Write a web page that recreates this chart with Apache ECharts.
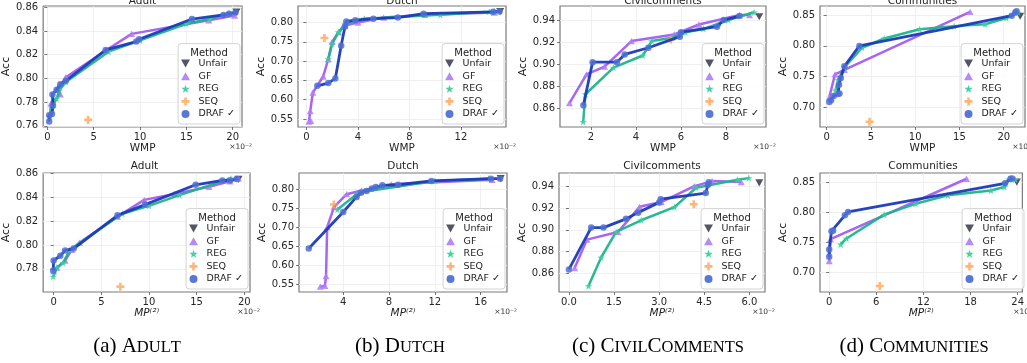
<!DOCTYPE html>
<html><head><meta charset="utf-8">
<script src="https://cdn.jsdelivr.net/npm/echarts@6/dist/echarts.min.js"></script>
<style>html,body{margin:0;padding:0;background:#fff}#c{width:1027px;height:363px}</style>
</head><body><div id="c"></div>
<script>
// ---------------- DATA ----------------
const methods = ['Unfair', 'GF', 'REG', 'SEQ', 'DRAF'];
const panelTitles = ['Adult', 'Dutch', 'Civilcomments', 'Communities', 'Adult', 'Dutch', 'Civilcomments', 'Communities'];
const captions = ['(a) Adult', '(b) Dutch', '(c) CivilComments', '(d) Communities'];

// Top row: WMP (x 1e-2) vs Acc
const adultWmpUnfair = [[20.4, 0.8558]];
const adultWmpGF = [[0.3,0.770],[0.4,0.779],[0.6,0.780],[1.4,0.7865],[1.1,0.7905],[2.0,0.801],[6.3,0.8235],[9.1,0.8375],[17.4,0.849],[20.2,0.853]];
const adultWmpREG = [[0.3,0.768],[0.5,0.775],[1.0,0.783],[1.3,0.790],[2.0,0.797],[6.6,0.8225],[10.0,0.832],[15.0,0.846],[17.5,0.850],[19.6,0.855]];
const adultWmpSEQ = [[4.4, 0.765]];
const adultWmpDRAF = [[0.2,0.7637],[0.2,0.769],[0.5,0.770],[0.6,0.777],[0.55,0.7865],[1.0,0.7905],[1.4,0.795],[2.0,0.798],[6.3,0.824],[9.6,0.831],[9.9,0.833],[15.6,0.850],[19.0,0.8535],[19.6,0.8545],[20.3,0.8555]];

const dutchWmpUnfair = [[15.05, 0.8287]];
const dutchWmpGF = [[0.2,0.543],[0.35,0.545],[0.3,0.570],[0.5,0.618],[1.3,0.660],[1.7,0.705],[2.0,0.750],[2.5,0.775],[3.0,0.792],[4.0,0.800],[6.0,0.813],[9.2,0.820],[14.6,0.826]];
const dutchWmpREG = [[1.7,0.705],[2.0,0.745],[2.5,0.775],[3.0,0.796],[4.5,0.810],[10.4,0.820],[14.2,0.828],[14.6,0.829]];
const dutchWmpSEQ = [[1.4, 0.760]];
const dutchWmpDRAF = [[0.85,0.636],[1.7,0.643],[2.25,0.655],[2.7,0.740],[3.0,0.790],[3.1,0.803],[3.8,0.806],[5.2,0.810],[7.1,0.813],[9.1,0.823],[14.5,0.828],[15.0,0.829]];

const civilWmpUnfair = [[9.48, 0.943]];
const civilWmpGF = [[1.04,0.865],[1.8,0.891],[2.6,0.898],[3.8,0.921],[5.7,0.927],[6.8,0.936],[8.6,0.9445],[9.05,0.9445]];
const civilWmpREG = [[1.65,0.848],[1.75,0.873],[3.0,0.897],[4.3,0.908],[4.7,0.921],[5.6,0.924],[6.2,0.929],[7.0,0.932],[7.7,0.937],[8.1,0.940],[9.25,0.947]];
const civilWmpSEQ = [[5.55, 0.9225]];
const civilWmpDRAF = [[1.66,0.863],[2.07,0.902],[3.15,0.902],[3.5,0.909],[4.55,0.915],[5.95,0.925],[6.0,0.929],[7.6,0.934],[7.9,0.940],[8.6,0.9436]];

const commWmpUnfair = [[21.85, 0.848]];
const commWmpGF = [[0.3,0.717],[0.95,0.754],[2.0,0.761],[16.2,0.855]];
const commWmpREG = [[1.0,0.728],[1.3,0.745],[2.0,0.765],[4.0,0.797],[6.5,0.812],[10.5,0.827],[14.4,0.832],[17.9,0.835],[20.3,0.845],[21.6,0.854]];
const commWmpSEQ = [[4.85, 0.677]];
const commWmpDRAF = [[0.3,0.709],[0.5,0.712],[0.8,0.719],[1.3,0.722],[1.45,0.723],[1.4,0.737],[1.6,0.748],[2.0,0.767],[3.7,0.800],[20.9,0.849],[21.3,0.854],[21.45,0.856]];

// Bottom row: MP(2) (x 1e-2) vs Acc
const adultMpUnfair = [[19.4, 0.8552]];
const adultMpGF = [[0.0,0.778],[0.35,0.781],[1.2,0.787],[1.9,0.796],[2.7,0.802],[6.7,0.824],[9.5,0.838],[12.7,0.843],[16.3,0.849],[18.5,0.8536],[19.4,0.856]];
const adultMpREG = [[-0.05,0.7735],[0.35,0.781],[1.0,0.785],[1.7,0.796],[7.2,0.8263],[10.0,0.833],[13.2,0.842],[18.6,0.856]];
const adultMpSEQ = [[7.0, 0.765]];
const adultMpDRAF = [[-0.05,0.7786],[0.0,0.787],[0.7,0.791],[1.2,0.7955],[2.1,0.797],[6.7,0.825],[9.6,0.834],[14.9,0.8507],[17.7,0.8543],[18.5,0.8543],[19.2,0.8556]];

const dutchMpUnfair = [[17.75, 0.828]];
const dutchMpGF = [[2.0,0.543],[2.4,0.545],[2.5,0.571],[2.6,0.700],[3.2,0.753],[4.3,0.787],[5.6,0.797],[8.2,0.813],[17.0,0.825]];
const dutchMpREG = [[3.5,0.7465],[5.17,0.787],[5.6,0.793],[12.0,0.822],[16.7,0.828]];
const dutchMpSEQ = [[3.18, 0.760]];
const dutchMpDRAF = [[0.99,0.644],[4.0,0.740],[5.17,0.780],[5.55,0.791],[6.05,0.7956],[6.5,0.802],[6.84,0.806],[7.42,0.8105],[8.8,0.812],[11.7,0.822],[16.9,0.828],[17.7,0.828]];

const civilMpUnfair = [[6.33, 0.943]];
const civilMpGF = [[0.19,0.865],[0.6,0.891],[1.63,0.898],[2.35,0.921],[3.07,0.9254],[4.17,0.940],[4.76,0.9446],[5.73,0.9437]];
const civilMpREG = [[0.65,0.8484],[1.07,0.8746],[1.57,0.898],[2.4,0.9087],[3.51,0.9208],[4.23,0.9385],[5.6,0.9458],[5.98,0.9473]];
const civilMpSEQ = [[4.15, 0.9233]];
const civilMpDRAF = [[0.0,0.8637],[0.74,0.902],[1.15,0.902],[1.9,0.910],[2.3,0.9157],[3.0,0.925],[3.05,0.928],[4.55,0.9336],[4.62,0.941],[4.65,0.9436]];

const commMpUnfair = [[23.9, 0.850]];
const commMpGF = [[0.0,0.719],[0.17,0.7555],[17.5,0.8555]];
const commMpREG = [[1.46,0.7467],[2.2,0.7566],[7.0,0.796],[11.0,0.814],[15.1,0.828],[20.6,0.836],[22.3,0.8418],[22.9,0.8544],[23.7,0.854]];
const commMpSEQ = [[6.44, 0.678]];
const commMpDRAF = [[0.0,0.7264],[0.0,0.7385],[0.3,0.7687],[0.5,0.770],[2.0,0.795],[2.4,0.8005],[22.4,0.848],[23.1,0.8555],[23.3,0.856]];

// axis ranges and tick labels
const xMin = [-0.45, -0.65, 0.62, -0.75, -1.1, 0.14, -0.33, -1.17];
const xMax = [21.0, 15.5, 9.78, 22.4, 20.6, 18.3, 6.52, 24.6];
const yMin = [0.759, 0.529, 0.8434, 0.6686, 0.7605, 0.529, 0.843, 0.668];
const yMax = [0.861, 0.843, 0.9527, 0.8646, 0.8606, 0.843, 0.952, 0.865];
const xTicks = [[0,5,10,15,20],[0,4,8,12],[2,4,6,8],[0,5,10,15,20],[0,5,10,15,20],[4,8,12,16],[0,1.5,3,4.5,6],[0,6,12,18,24]];
const xDec = [0, 0, 0, 0, 0, 0, 1, 0];
const yTicks = [
  [0.76,0.78,0.80,0.82,0.84,0.86],
  [0.55,0.60,0.65,0.70,0.75,0.80],
  [0.86,0.88,0.90,0.92,0.94],
  [0.70,0.75,0.80,0.85],
  [0.78,0.80,0.82,0.84,0.86],
  [0.55,0.60,0.65,0.70,0.75,0.80],
  [0.86,0.88,0.90,0.92,0.94],
  [0.70,0.75,0.80,0.85]
];

const panelData = [
  [adultWmpUnfair, adultWmpGF, adultWmpREG, adultWmpSEQ, adultWmpDRAF],
  [dutchWmpUnfair, dutchWmpGF, dutchWmpREG, dutchWmpSEQ, dutchWmpDRAF],
  [civilWmpUnfair, civilWmpGF, civilWmpREG, civilWmpSEQ, civilWmpDRAF],
  [commWmpUnfair, commWmpGF, commWmpREG, commWmpSEQ, commWmpDRAF],
  [adultMpUnfair, adultMpGF, adultMpREG, adultMpSEQ, adultMpDRAF],
  [dutchMpUnfair, dutchMpGF, dutchMpREG, dutchMpSEQ, dutchMpDRAF],
  [civilMpUnfair, civilMpGF, civilMpREG, civilMpSEQ, civilMpDRAF],
  [commMpUnfair, commMpGF, commMpREG, commMpSEQ, commMpDRAF]
];

// ---------------- LAYOUT / STYLE ----------------
const W = 1027, H = 363;
const gL = [43, 298, 560, 820, 39, 299, 559, 820];
const gR = [242, 506, 766, 1025, 250, 507, 765, 1026];
const gT = [6, 6, 6, 6, 173, 173, 173, 173];
const gB = [127, 127, 127, 127, 292, 292, 292, 292];
const yNameGap = [28, 23, 27, 26, 26, 26, 26, 26];
const capX = [137, 400, 658, 914];

const FONT = 'DejaVu Sans';
const triDown = 'path://M0,0 L10,0 L5,9 Z';
const triUp = 'path://M5,0 L10,9 L0,9 Z';
const star = 'path://M5,0 L6.176,3.382 L9.755,3.455 L6.902,5.618 L7.939,9.045 L5,7 L2.061,9.045 L3.098,5.618 L0.245,3.455 L3.824,3.382 Z';
const plus = 'path://M3.4,0 H6.6 V3.4 H10 V6.6 H6.6 V10 H3.4 V6.6 H0 V3.4 H3.4 Z';
const mStyle = {
  Unfair: {symbol: triDown, size: 8, color: '#262b40', line: null},
  GF: {symbol: triUp, size: 7, color: 'rgba(176,125,245,0.85)', line: '#a35cf2', lw: 2.5},
  REG: {symbol: star, size: 7.5, color: 'rgba(55,207,157,0.85)', line: '#1db489', lw: 2.5},
  SEQ: {symbol: plus, size: 8, color: 'rgba(255,155,70,0.9)', line: null},
  DRAF: {symbol: 'circle', size: 6.5, color: 'rgba(80,112,214,0.85)', line: '#1a3bb8', lw: 2.8}
};
const legendColor = {Unfair: '#262b40', GF: '#b48af5', REG: '#42d2a3', SEQ: '#ffa152', DRAF: '#5877d6'};

const grid = [], xAxis = [], yAxis = [], series = [], legend = [], graphic = [];
for (let i = 0; i < 8; i++) {
  grid.push({left: gL[i], top: gT[i], width: gR[i] - gL[i], height: gB[i] - gT[i],
    show: true, borderColor: '#7a7a7a', borderWidth: 1.2, backgroundColor: '#fff'});
  const bottomRow = i >= 4;
  xAxis.push({
    type: 'value', gridIndex: i, min: xMin[i], max: xMax[i], splitNumber: 30,
    name: bottomRow ? '{i|MP}{s|⁽²⁾}' : 'WMP',
    nameLocation: 'middle', nameGap: bottomRow ? 16 : 13,
    nameTextStyle: {fontFamily: FONT, fontSize: 10.5, color: '#222',
      rich: {i: {fontFamily: FONT, fontStyle: 'italic', fontSize: 10.5, color: '#222'},
             s: {fontFamily: FONT, fontStyle: 'italic', fontSize: 10.5, color: '#222'}}},
    axisLine: {show: false},
    axisTick: {show: true, length: 3, customValues: xTicks[i], lineStyle: {color: '#555', width: 0.8}},
    axisLabel: {fontFamily: FONT, fontSize: 10, color: '#262626', margin: 5, customValues: xTicks[i],
      formatter: v => Number(v).toFixed(xDec[i])},
    splitLine: {show: true, customValues: xTicks[i], lineStyle: {color: '#ececec', width: 0.8}}
  });
  yAxis.push({
    type: 'value', gridIndex: i, min: yMin[i], max: yMax[i], splitNumber: 30,
    name: 'Acc', nameLocation: 'middle', nameGap: yNameGap[i], nameRotate: 90,
    nameTextStyle: {fontFamily: FONT, fontSize: 11, color: '#222'},
    axisLine: {show: false},
    axisTick: {show: true, length: 3, customValues: yTicks[i], lineStyle: {color: '#555', width: 0.8}},
    axisLabel: {fontFamily: FONT, fontSize: 10, color: '#262626', margin: 5, customValues: yTicks[i],
      formatter: v => Number(v).toFixed(2)},
    splitLine: {show: true, customValues: yTicks[i], lineStyle: {color: '#ececec', width: 0.8}}
  });
  methods.forEach((m, j) => {
    const st = mStyle[m];
    const s = {
      name: m, xAxisIndex: i, yAxisIndex: i, data: panelData[i][j],
      symbol: st.symbol, symbolSize: st.size, symbolKeepAspect: true,
      itemStyle: {color: st.color}, animation: false, z: 2 + j
    };
    if (st.line) {
      s.type = 'line'; s.showSymbol = true; s.showAllSymbol = true;
      s.lineStyle = {color: st.line, width: st.lw, opacity: 0.95};
    } else {
      s.type = 'scatter';
    }
    series.push(s);
  });
  legend.push({
    orient: 'vertical', right: W - gR[i] + 2, bottom: H - gB[i] + 3,
    padding: [15, 5, 5, 3], itemWidth: 16, itemHeight: 8, itemGap: 2.6,
    borderColor: '#d3d3d3', borderWidth: 1, borderRadius: 3, backgroundColor: 'rgba(255,255,255,0.85)',
    textStyle: {fontFamily: FONT, fontSize: 9.5, color: '#222'},
    selectedMode: false,
    formatter: n => n === 'DRAF' ? 'DRAF ✓' : n,
    data: methods.map(m => ({name: m, icon: mStyle[m].symbol, itemStyle: {color: legendColor[m]}}))
  });
  graphic.push({type: 'text', x: gR[i] - 33, y: gB[i] - 74, z: 100,
    style: {text: 'Method', font: '10px "DejaVu Sans"', fill: '#222', textAlign: 'center', textVerticalAlign: 'middle'}});
  graphic.push({type: 'text', x: (gL[i] + gR[i]) / 2, y: bottomRow ? gT[i] - 7 : 1, z: 100,
    style: {text: panelTitles[i], font: '10.5px "DejaVu Sans"', fill: '#222', textAlign: 'center', textVerticalAlign: 'middle'}});
  graphic.push({type: 'text', x: gR[i] + 10, y: gB[i] + 20, z: 100,
    style: {text: '×10⁻²', font: '7.5px "DejaVu Sans"', fill: '#333', textAlign: 'right', textVerticalAlign: 'middle'}});
}

// captions in small caps (serif)
function smallCaps(str) {
  const m = str.match(/^(\(\w\)\s)(.*)$/);
  let out = '{n|' + m[1] + '}';
  for (const ch of m[2]) {
    if (ch >= 'A' && ch <= 'Z') out += '{b|' + ch + '}';
    else out += '{s|' + ch.toUpperCase() + '}';
  }
  return out;
}
captions.forEach((c, k) => {
  graphic.push({type: 'text', x: capX[k], y: 346, z: 100,
    style: {text: smallCaps(c), textAlign: 'center', textVerticalAlign: 'middle',
      rich: {
        n: {fontFamily: 'Liberation Serif', fontSize: 21, fill: '#000', verticalAlign: 'bottom'},
        b: {fontFamily: 'Liberation Serif', fontSize: 21, fill: '#000', verticalAlign: 'bottom'},
        s: {fontFamily: 'Liberation Serif', fontSize: 16.5, fill: '#000', verticalAlign: 'bottom'}
      }}});
});

const chart = echarts.init(document.getElementById('c'), null, {renderer: 'canvas'});
chart.setOption({animation: false, backgroundColor: '#fff', grid, xAxis, yAxis, series, legend, graphic});
</script></body></html>
